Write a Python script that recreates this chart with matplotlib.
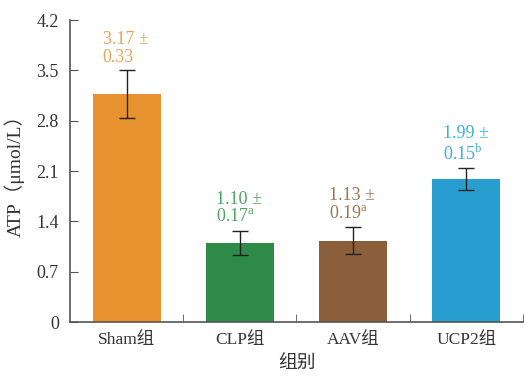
import matplotlib
matplotlib.use("Agg")
import matplotlib.pyplot as plt

plt.rcParams['font.family'] = ['Liberation Serif', 'Noto Sans CJK SC']
plt.rcParams['mathtext.fontset'] = 'custom'
plt.rcParams['mathtext.rm'] = 'Liberation Serif'

groups = ["Sham组", "CLP组", "AAV组", "UCP2组"]
means = [3.17, 1.10, 1.13, 1.99]
sds = [0.33, 0.17, 0.19, 0.15]
marks = ["", "a", "a", "b"]
bar_colors = ["#E8912F", "#2E8B47", "#8B5E3C", "#279DD0"]
text_colors = ["#EBA35C", "#4FA65E", "#9F7452", "#3BAEE2"]
yticks = [0, 0.7, 1.4, 2.1, 2.8, 3.5, 4.2]
ytick_labels = ["0", "0.7", "1.4", "2.1", "2.8", "3.5", "4.2"]

fig = plt.figure(figsize=(5.25, 3.76), dpi=100)
ax = fig.add_axes([0.1333, 0.1436, 0.8629, 0.8032])

x = range(len(groups))
ax.bar(x, means, width=0.6, color=bar_colors, zorder=2)
ax.errorbar(x, means, yerr=sds, fmt='none', ecolor='#222222', elinewidth=1.0,
            capsize=6, capthick=1.0, zorder=3)

for i, (m, s, mk, c) in enumerate(zip(means, sds, marks, text_colors)):
    top = m + s
    sup = f"$^{{\\mathrm{{{mk}}}}}$" if mk else ""
    ax.text(i - 0.21, top + 0.06, f"{m:.2f} ±\n{s:.2f}" + sup, color=c,
            fontsize=13, ha='left', va='bottom', linespacing=1.1)

ax.set_xlim(-0.5, 3.5)
ax.set_ylim(0, 4.2)
ax.set_xticks(list(x))
ax.set_xticklabels(groups, fontsize=12.5, color='#333333')
ax.set_xticks([0.5, 1.5, 2.5, 3.5], minor=True)
ax.tick_params(axis='x', which='major', length=0, pad=7)
ax.tick_params(axis='x', which='minor', length=6, direction='in', color='#555555')
ax.set_yticks(yticks)
ax.set_yticklabels(ytick_labels, fontsize=13, color='#333333')
ax.tick_params(axis='y', length=6, direction='in', color='#555555', pad=8)

for side in ('top', 'right'):
    ax.spines[side].set_visible(False)
for side in ('left', 'bottom'):
    ax.spines[side].set_color('#555555')
    ax.spines[side].set_linewidth(1.2)

ax.set_ylabel("ATP（μmol/L）", fontsize=14, color='#333333', labelpad=8)
ax.set_xlabel("组别", fontsize=13.5, color='#333333', labelpad=6)

fig.savefig("out.png", dpi=100)
